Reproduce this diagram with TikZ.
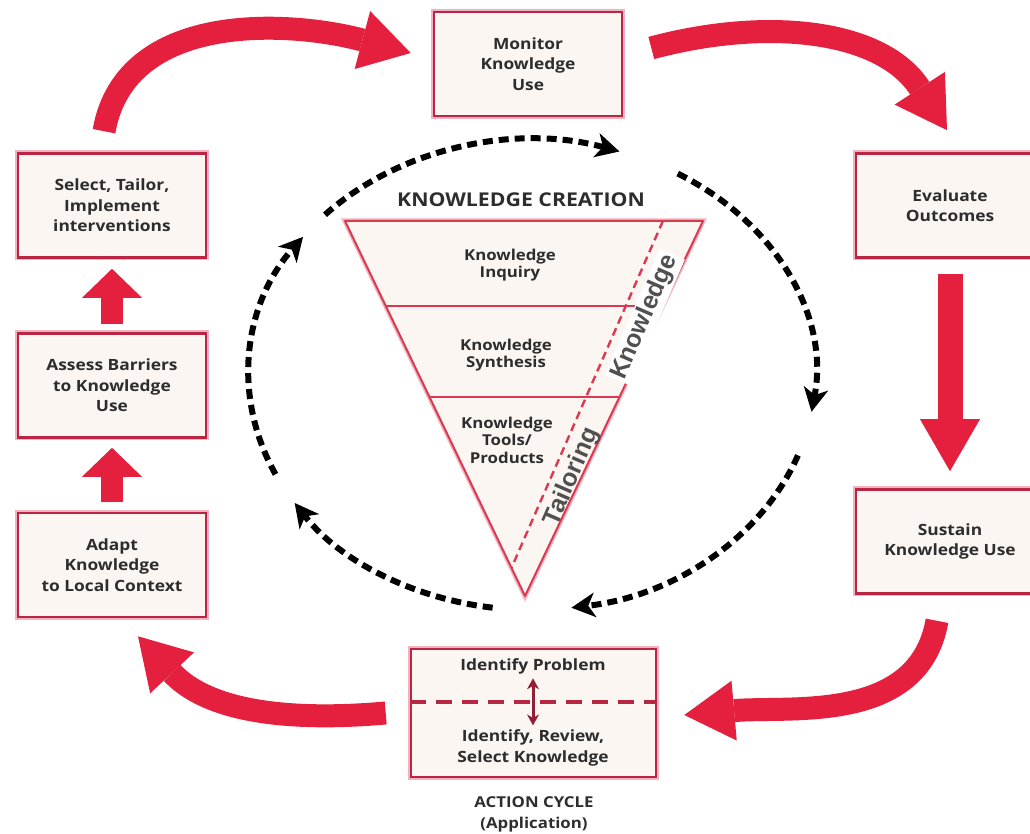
\documentclass[tikz,border=0pt]{standalone}
\usepackage{fontspec}
\setmainfont{Open Sans}[FakeStretch=1.12]
\newfontfamily\slantfont{Liberation Sans}
\usetikzlibrary{arrows.meta,calc}

\definecolor{cyclered}{RGB}{228,32,62}
\definecolor{boxred}{RGB}{184,38,68}
\definecolor{boxglow}{RGB}{242,178,192}
\definecolor{boxfill}{RGB}{252,246,242}
\definecolor{funnelred}{RGB}{218,58,80}
\definecolor{inktext}{RGB}{45,45,45}
\definecolor{slanttext}{RGB}{80,80,80}

\begin{document}
\begin{tikzpicture}
    [
    x=1pt, y=1pt,
    every node/.style={text=inktext, align=center, font=\bfseries\fontsize{15.5}{20.5}\selectfont},
    stage/.style={draw=boxred, fill=boxfill, line width=2.6pt, minimum width=188pt, minimum height=104pt,
                  preaction={draw=boxglow, line width=6pt}},
    funneltext/.style={font=\bfseries\fontsize{15}{17.5}\selectfont},
    slanted/.style={rotate=66.6, text=slanttext, inner sep=2pt, font=\slantfont\bfseries\fontsize{25}{25}\selectfont},
    bigarrow/.style={cyclered, line width=23pt, -{Triangle[length=50pt, width=60pt, line width=0pt]}},
    blockarrow/.style={cyclered, line width=22pt, -{Triangle[length=29pt, width=60pt, line width=0pt]}},
    creationloop/.style={black, line width=6pt, dash pattern=on 10pt off 6pt,
                  -{Stealth[length=24pt, width=25pt, inset=7pt, line width=0pt]}},
    ]
    \useasboundingbox (0,0) rectangle (1030,834);

    % action cycle
    \node[stage] (monitor)  at (528,770)   {Monitor\\Knowledge\\Use};
    \node[stage] (evaluate) at (950,628.5) {Evaluate\\Outcomes};
    \node[stage] (sustain)  at (950,292.5) {Sustain\\Knowledge Use};
    \node[stage] (select)   at (112,628.5) {Select, Tailor,\\Implement\\interventions};
    \node[stage] (assess)   at (112,448.5) {Assess Barriers\\to Knowledge\\Use};
    \node[stage] (adapt)    at (112,269)   {Adapt\\Knowledge\\to Local Context};
    \node[stage, minimum width=245pt, minimum height=128pt] (problem) at (533.5,121) {};
    \draw[boxred, line width=3.2pt, dash pattern=on 16pt off 10pt]
      ([yshift=11pt]problem.west) -- ([yshift=11pt]problem.east);
    \node (identify) at (533,168) {Identify Problem};
    \node (review)   at (533,86)  {Identify, Review,\\Select Knowledge};
    \draw[boxred!80!black, line width=3pt, {Stealth[length=11pt, width=12pt]}-{Stealth[length=11pt, width=12pt]}]
      ([yshift=-1pt]identify.south) -- ([yshift=1pt]review.north);
    \node[font=\bfseries\fontsize{15}{21}\selectfont] (action) at (534,20) {ACTION CYCLE\\(Application)};

    \draw[bigarrow] ([xshift=-8pt, yshift=21pt]select.north) to[out=80, in=165] ([xshift=-22pt, yshift=11pt]monitor.west);
    \draw[bigarrow] ([xshift=28pt, yshift=16pt]monitor.east) to[out=15, in=123] ([xshift=-3pt, yshift=22pt]evaluate.north);
    \draw[bigarrow] ([xshift=-13pt, yshift=-26pt]sustain.south) to[out=-100, in=5] ([xshift=27pt, yshift=-2pt]problem.east);
    \draw[bigarrow] ([xshift=-24pt]problem.west) to[out=185, in=-47] ([xshift=26pt, yshift=-18pt]adapt.south);
    \draw[blockarrow] ([yshift=8pt]assess.north) -- ([yshift=-10pt]select.south);
    \draw[blockarrow] ([yshift=10pt]adapt.north) -- ([yshift=-9pt]assess.south);
    \draw[blockarrow, line width=25pt, -{Triangle[length=52pt, width=60pt, line width=0pt]}]
      ([yshift=-15pt]evaluate.south) -- ([yshift=17pt]sustain.north);

    % knowledge creation funnel
    \coordinate (ktl)  at (345,613);
    \coordinate (ktr)  at (703,613);
    \coordinate (ktip) at (525,238);
    \filldraw[fill=boxfill, draw=funnelred, line width=2pt, line join=round,
              preaction={draw=boxglow, line width=5pt}] (ktl) -- (ktr) -- (ktip) -- cycle;
    \draw[funnelred, line width=2.6pt] ($(ktl)!.227!(ktip)$) -- ($(ktr)!.227!(ktip)$);
    \draw[funnelred, line width=2.6pt] ($(ktl)!.469!(ktip)$) -- ($(ktr)!.469!(ktip)$);
    \draw[funnelred, line width=2.4pt, dash pattern=on 8pt off 5pt] ($(ktl)!.888!(ktr)$) -- ($(ktl)!.925!(ktip)$);
    \node (creation) at (521,634) {\fontsize{19}{20}\selectfont KNOWLEDGE CREATION};
    \node[funneltext] (inquiry)   at (510,569) {Knowledge\\Inquiry};
    \node[funneltext] (synthesis) at (506,479) {Knowledge\\Synthesis};
    \node[funneltext] (tools)     at (507,394) {Knowledge\\Tools/\\Products};
    \node[slanted, fill=white] (knowledge) at (645,517) {Knowledge};
    \node[slanted] (tailoring) at (572,357) {Tailoring};

    % dashed loop round the funnel
    \coordinate (hub) at (532,459);
    \foreach \from/\to in {137/72, 59/-9, -20/-82, -98/-147, -155/-216}
      \draw[creationloop] (hub) ++(\from:283 and 235) arc[start angle=\from, end angle=\to, x radius=283, y radius=235];
\end{tikzpicture}
\end{document}
